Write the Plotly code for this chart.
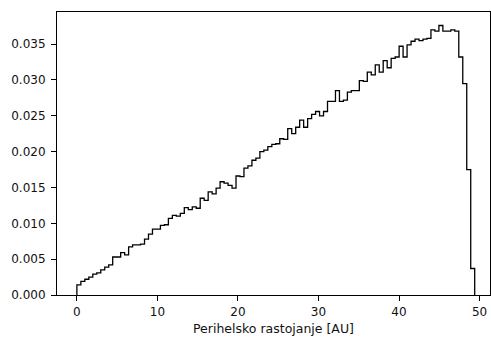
import numpy as np
import plotly.graph_objects as go

# Histogram of perihelion distances: 100 equal bins between 0 and 49.4 AU
bin_start = 0.0
bin_stop = 49.4
density = [
    0.0014, 0.0019, 0.0022, 0.0025, 0.0029, 0.0031, 0.0035, 0.0039, 0.0042, 0.0053,
    0.0053, 0.0059, 0.0056, 0.0067, 0.0070, 0.0070, 0.0071, 0.0078, 0.0085, 0.0092,
    0.0092, 0.0097, 0.0098, 0.0107, 0.0111, 0.0110, 0.0114, 0.0122, 0.0119, 0.0123,
    0.0121, 0.0135, 0.0132, 0.0144, 0.0141, 0.0149, 0.0158, 0.0156, 0.0153, 0.0149,
    0.0166, 0.0165, 0.0177, 0.0180, 0.0188, 0.0191, 0.0200, 0.0202, 0.0207, 0.0210,
    0.0211, 0.0218, 0.0217, 0.0232, 0.0225, 0.0234, 0.0244, 0.0234, 0.0246, 0.0252,
    0.0256, 0.0250, 0.0256, 0.0270, 0.0270, 0.0285, 0.0270, 0.0272, 0.0283, 0.0285,
    0.0285, 0.0299, 0.0298, 0.0311, 0.0307, 0.0321, 0.0311, 0.0327, 0.0317, 0.0330,
    0.0332, 0.0347, 0.0332, 0.0349, 0.0354, 0.0357, 0.0355, 0.0357, 0.0358, 0.0370,
    0.0368, 0.0376, 0.0368, 0.0368, 0.0370, 0.0368, 0.0332, 0.0295, 0.0175, 0.0037,
]
x_ticks = [0, 10, 20, 30, 40, 50]
y_ticks = [0.000, 0.005, 0.010, 0.015, 0.020, 0.025, 0.030, 0.035]
x_title = "Perihelsko rastojanje [AU]"

edges = np.linspace(bin_start, bin_stop, len(density) + 1)

# Outline of the step histogram: rise from zero, step across bins, drop back to zero
xs = [edges[0]] + list(edges) + [edges[-1]]
ys = [0.0] + list(density) + [density[-1], 0.0]

fig = go.Figure()
fig.add_trace(go.Scatter(
    x=xs, y=ys, mode="lines",
    line=dict(color="#000000", width=1.3, shape="hv"),
    hoverinfo="skip", showlegend=False,
))

ymax = max(density) * 1.05
span = bin_stop - bin_start

axis_common = dict(
    showgrid=False, zeroline=False,
    showline=True, linecolor="#000000", linewidth=1, mirror=True,
    ticks="outside", ticklen=5, tickwidth=1, tickcolor="#000000",
    tickfont=dict(family="DejaVu Sans", size=12, color="#111111"),
)

fig.update_layout(
    width=491, height=338,
    margin=dict(l=57, r=1, t=12, b=43),
    paper_bgcolor="white", plot_bgcolor="white",
    xaxis=dict(
        range=[bin_start - 0.05 * span, 51.3],
        tickvals=x_ticks, ticktext=[str(t) for t in x_ticks],
        title=dict(text=x_title, font=dict(family="DejaVu Sans", size=12.5, color="#111111"), standoff=5),
        ticklabelstandoff=1,
        **axis_common,
    ),
    yaxis=dict(
        range=[0, ymax],
        tickvals=y_ticks, ticktext=[f"{t:.3f}" for t in y_ticks],
        ticklabelstandoff=3,
        **axis_common,
    ),
)

fig.write_html("out.html")
